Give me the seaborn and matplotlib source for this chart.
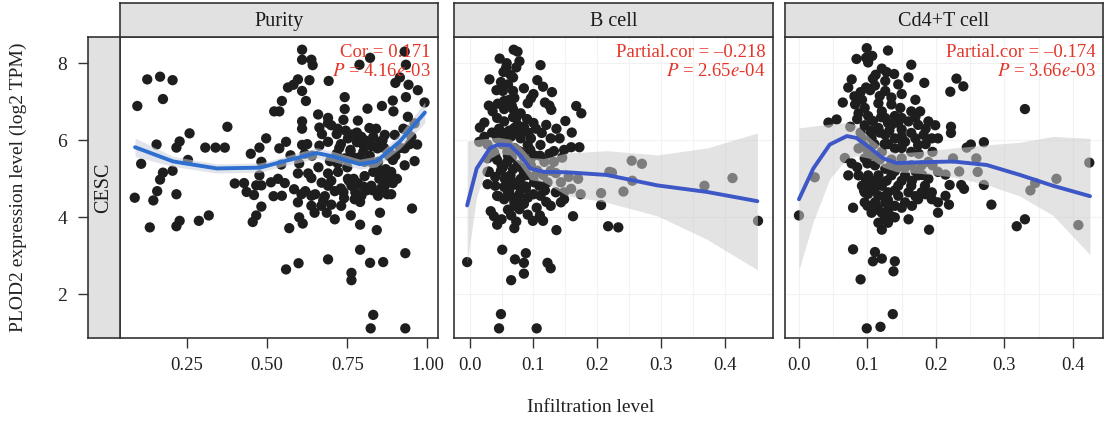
import matplotlib
matplotlib.use("Agg")
import matplotlib.pyplot as plt
import seaborn as sns
import numpy as np
import pandas as pd

# ---------------- data ----------------
panels = ["Purity", "B cell", "Cd4+T cell"]
row_label = "CESC"
y_ticks = [2, 4, 6, 8]
x_ticks_purity = [0.25, 0.50, 0.75, 1.00]
x_ticklabels_purity = ["0.25", "0.50", "0.75", "1.00"]
x_ticks_cell = [0.0, 0.1, 0.2, 0.3, 0.4]
x_ticklabels_cell = ["0.0", "0.1", "0.2", "0.3", "0.4"]
annot_line1 = ["Cor = 0.171", "Partial.cor = \u20130.218", "Partial.cor = \u20130.174"]
annot_line2 = [r"$P$ = 4.16$e$-03", r"$P$ = 2.65$e$-04", r"$P$ = 3.66$e$-03"]

purity_x = [0.126, 0.166, 0.205, 0.175, 0.095, 0.258, 0.227, 0.217, 0.155, 0.107, 0.175, 0.166,
            0.205, 0.253, 0.157, 0.145, 0.087, 0.217, 0.134, 0.217, 0.227, 0.287, 0.318, 0.307,
            0.339, 0.368, 0.376, 0.399, 0.428, 0.449, 0.436, 0.459, 0.476, 0.497, 0.522, 0.482,
            0.476, 0.466, 0.482, 0.512, 0.520, 0.482, 0.466, 0.455,
            0.609, 0.609, 0.638, 0.642, 0.596, 0.582, 0.565, 0.632, 0.692, 0.609, 0.621, 0.546,
            0.538, 0.929, 0.821, 0.788, 0.933, 0.914, 0.941, 0.900, 0.970, 0.742, 0.933, 0.892,
            0.991, 0.858, 0.813, 0.742, 0.894, 0.659, 0.690, 0.738, 0.783, 0.819, 0.609, 0.609,
            0.663, 0.700, 0.671, 0.717, 0.752, 0.794, 0.831, 0.867, 0.898, 0.844, 0.800, 0.939,
            0.960, 0.937, 0.950, 0.929, 0.968, 0.538, 0.559, 0.609, 0.663, 0.690, 0.717, 0.696,
            0.742, 0.773, 0.804, 0.846, 0.617, 0.573, 0.544, 0.534, 0.596, 0.628, 0.638, 0.555,
            0.584, 0.607, 0.619, 0.638, 0.596, 0.546, 0.690, 0.721, 0.752, 0.690, 0.711, 0.738,
            0.783, 0.763, 0.804, 0.825, 0.846, 0.867, 0.892, 0.794, 0.773, 0.675, 0.700, 0.731,
            0.669, 0.638, 0.648, 0.686, 0.711, 0.761, 0.790, 0.842, 0.852, 0.887, 0.862, 0.892,
            0.929, 0.960, 0.952, 0.600, 0.611, 0.569, 0.559, 0.598, 0.690, 0.763, 0.763, 0.790,
            0.821, 0.862, 0.931, 0.831, 0.823, 0.931, 0.887, 0.831,
            0.730, 0.760, 0.780, 0.810, 0.840, 0.860, 0.880, 0.750, 0.770, 0.800, 0.830, 0.870,
            0.700, 0.720, 0.740, 0.790, 0.810, 0.850,
            0.720, 0.745, 0.765, 0.780, 0.805, 0.825, 0.850, 0.865, 0.880, 0.725, 0.760, 0.785,
            0.820, 0.845, 0.870, 0.885, 0.730, 0.755, 0.775, 0.800, 0.830, 0.855, 0.875, 0.905,
            0.640, 0.660, 0.670, 0.650, 0.680, 0.600, 0.625, 0.690, 0.900, 0.915, 0.945, 0.925]
purity_y = [7.58, 7.65, 7.56, 7.07, 6.89, 6.18, 5.97, 5.81, 5.89, 5.39, 5.16, 4.98,
            5.21, 5.49, 4.68, 4.44, 4.51, 4.60, 3.74, 3.77, 3.91, 3.91, 4.05, 5.81,
            5.81, 5.81, 6.35, 4.88, 4.89, 5.65, 4.66, 4.58, 5.81, 6.05, 6.75, 5.44,
            5.09, 4.83, 4.83, 4.91, 4.55, 4.28, 4.05, 3.88,
            8.35, 8.09, 8.09, 7.95, 7.58, 7.44, 7.37, 7.56, 7.54, 7.28, 7.02, 7.02,
            6.75, 8.30, 8.14, 7.96, 7.96, 7.63, 7.44, 7.49, 7.30, 7.12, 7.12, 7.03,
            6.98, 6.89, 6.82, 6.81, 6.75, 6.67, 6.58, 6.53, 6.51, 6.32, 6.49, 6.30,
            6.33, 6.39, 6.16, 6.16, 6.05, 6.09, 6.09, 6.14, 6.14, 5.79, 5.88, 6.61,
            6.44, 6.26, 6.09, 5.79, 5.89, 5.79, 5.96, 5.88, 5.86, 5.96, 5.65, 5.46,
            5.53, 5.53, 5.44, 5.44, 5.65, 5.61, 5.37, 5.00, 5.14, 5.14, 5.02, 4.89,
            4.73, 4.60, 4.68, 4.56, 4.39, 4.56, 5.14, 5.18, 5.00, 4.82, 4.68, 4.65,
            4.89, 4.82, 5.07, 4.82, 4.56, 4.82, 4.89, 4.56, 4.47, 4.44, 4.33, 4.30,
            4.30, 4.30, 4.12, 4.12, 3.95, 4.05, 3.81, 3.67, 4.12, 4.60, 5.14, 5.49,
            5.35, 5.46, 4.23, 4.00, 3.84, 3.72, 2.65, 2.81, 2.91, 2.56, 2.37, 3.16,
            2.82, 2.84, 3.07, 1.47, 1.12, 1.12, 5.18, 5.18,
            5.90, 5.75, 6.20, 5.95, 6.30, 6.00, 5.60, 5.30, 5.00, 5.70, 5.40, 5.25,
            4.95, 5.40, 4.50, 4.40, 4.70, 5.00,
            6.30, 6.25, 6.15, 5.95, 6.00, 5.85, 5.95, 5.80, 5.70, 5.80, 5.70, 5.55,
            5.60, 5.25, 5.05, 4.95, 4.75, 4.95, 4.65, 4.80, 4.70, 4.75, 4.60, 5.00,
            5.60, 5.30, 4.90, 4.60, 4.55, 5.40, 5.90, 6.45, 5.60, 5.80, 5.90, 6.30]

bcell_x = [0.069, 0.075, 0.047, 0.078, 0.073, 0.057, 0.053, 0.031, 0.049, 0.068, 0.111, 0.106,
           0.115, 0.129, 0.096, 0.091, 0.118, 0.128, 0.167, 0.175, 0.052, 0.068, 0.070, 0.054,
           0.054, 0.068, 0.073, 0.054, 0.043, 0.023, 0.016, 0.046, 0.070, 0.085, 0.113, 0.127,
           0.141, 0.111, 0.096, 0.148, 0.159, 0.172, 0.023, 0.015, 0.028, 0.043, 0.059, 0.038,
           0.059, 0.075, 0.085, 0.101, 0.117, 0.132, 0.127, 0.106, 0.096, 0.075, 0.059, 0.043,
           0.028, 0.049, 0.064, 0.080, 0.101, 0.122, 0.143, 0.159, 0.174, 0.028, 0.040, 0.054,
           0.064, 0.054, 0.075, 0.091, 0.111, 0.127, 0.143, 0.148, 0.162, 0.078, 0.091, 0.099,
           0.115, 0.136, 0.038, 0.033, 0.043, 0.073, 0.070, 0.051, 0.071, 0.088, 0.085, 0.085,
           0.065, 0.122, 0.127, -0.004, 0.049, 0.046, 0.105, 0.219, 0.206, 0.206, 0.217, 0.030,
           0.028, 0.132, 0.148, 0.109, 0.080, 0.064, 0.043, 0.080, 0.091,
           0.223, 0.254, 0.270, 0.255, 0.241, 0.233, 0.368, 0.412, 0.452,
           0.060, 0.070, 0.080, 0.065, 0.075, 0.085, 0.055, 0.062, 0.072, 0.090, 0.058, 0.068,
           0.078, 0.088, 0.095, 0.050, 0.060, 0.070, 0.082, 0.066,
           0.036, 0.044, 0.062, 0.080, 0.090, 0.100, 0.060, 0.064, 0.058, 0.085,
           0.035, 0.050, 0.062, 0.078, 0.092, 0.104, 0.120, 0.136,
           0.040, 0.050, 0.066, 0.080, 0.095, 0.110, 0.125, 0.145,
           0.040, 0.052, 0.068, 0.085, 0.100, 0.115, 0.135, 0.155, 0.170,
           0.045, 0.060, 0.072, 0.088, 0.100, 0.118, 0.135,
           0.060, 0.070, 0.085, 0.105, 0.120, 0.050, 0.065, 0.110,
           0.150, 0.160, 0.125, 0.100, 0.042, 0.030]
bcell_y = [8.35, 8.30, 8.12, 8.05, 7.89, 7.88, 7.77, 7.58, 7.51, 7.63, 7.95, 7.56,
           7.39, 7.25, 7.09, 6.96, 6.98, 6.79, 6.89, 6.70, 7.28, 7.28, 7.10, 7.02,
           6.81, 6.81, 6.58, 6.49, 6.58, 6.46, 6.33, 6.30, 6.32, 6.35, 6.19, 6.05,
           6.05, 5.88, 6.05, 5.75, 5.82, 5.82, 6.09, 5.96, 5.89, 6.05, 5.96, 5.70,
           5.70, 5.74, 5.56, 5.61, 5.44, 5.44, 5.21, 5.21, 5.35, 5.35, 5.44, 5.49,
           5.18, 5.21, 5.09, 5.00, 4.91, 4.91, 4.91, 4.74, 4.60, 4.86, 4.82, 4.79,
           4.56, 4.47, 4.47, 4.51, 4.56, 4.30, 4.39, 4.47, 4.03, 4.21, 4.07, 3.91,
           3.91, 3.67, 4.03, 4.16, 3.81, 3.89, 3.72, 3.16, 2.91, 3.07, 2.82, 2.54,
           2.37, 2.82, 2.68, 2.84, 1.49, 1.12, 1.12, 5.18, 4.63, 4.32, 3.77, 5.19,
           5.53, 5.72, 4.65, 4.82, 4.74, 4.82, 4.56, 6.05, 5.88,
           5.16, 5.47, 5.39, 4.95, 4.67, 3.74, 4.82, 5.02, 3.91,
           5.60, 5.80, 5.30, 6.10, 6.40, 5.20, 5.00, 4.70, 4.90, 5.10, 6.20, 6.60,
           4.60, 4.80, 5.50, 5.35, 5.05, 4.40, 5.65, 6.90,
           6.75, 6.95, 7.05, 6.70, 6.55, 6.45, 7.45, 7.70, 8.00, 7.35,
           6.20, 6.15, 6.25, 6.20, 6.20, 6.30, 6.40, 6.30,
           5.60, 5.90, 5.55, 5.70, 5.75, 5.60, 5.65, 5.55,
           5.05, 5.30, 5.25, 5.15, 5.05, 5.10, 5.15, 5.05, 5.00,
           4.55, 4.65, 4.85, 4.75, 4.60, 4.70, 4.65,
           4.20, 4.30, 4.35, 4.25, 4.40, 3.95, 4.05, 4.05,
           6.50, 6.20, 6.90, 7.20, 7.30, 6.90]

cd4_x = [0.099, 0.130, 0.084, 0.098, 0.107, 0.101, 0.164, 0.121, 0.128, 0.077, 0.108, 0.139,
         0.126, 0.160, 0.183, 0.072, 0.098, 0.111, 0.126, 0.135, 0.081, 0.092, 0.064, 0.082,
         0.116, 0.135, 0.148, 0.096, 0.177, 0.087, 0.101, 0.121, 0.126, 0.140, 0.160, 0.189,
         0.199, 0.055, 0.075, 0.043, 0.096, 0.116, 0.135, 0.150, 0.164, 0.182, 0.194, 0.203,
         0.092, 0.106, 0.126, 0.140, 0.155, 0.174, 0.087, 0.101, 0.121, 0.140, 0.164, 0.067,
         0.077, 0.096, 0.111, 0.126, 0.150, 0.164, 0.179, 0.189, 0.203, 0.072, 0.087, 0.101,
         0.116, 0.135, 0.155, 0.174, 0.189, 0.092, 0.106, 0.121, 0.145, 0.164, 0.184, 0.101,
         0.116, 0.130, 0.145, 0.160, 0.179, 0.194, 0.111, 0.126, 0.140, 0.155, 0.174, 0.194,
         0.203, 0.106, 0.121, 0.135, 0.160, 0.203, 0.116, 0.130, 0.121, 0.079, 0.096, 0.023,
         0.000, 0.190, 0.079, 0.111, 0.121, 0.108, 0.140, 0.138, 0.090, 0.137, 0.099, 0.119,
         0.150, 0.164, 0.174,
         0.230, 0.240, 0.221, 0.222, 0.222, 0.330, 0.270, 0.251, 0.245, 0.225, 0.259, 0.234,
         0.261, 0.214, 0.220, 0.237, 0.241, 0.270, 0.214, 0.219, 0.281, 0.345, 0.338, 0.376,
         0.424, 0.330, 0.318, 0.408,
         0.110, 0.125, 0.140, 0.115, 0.130, 0.145, 0.105, 0.120, 0.135, 0.150, 0.095, 0.112,
         0.090, 0.104, 0.118, 0.150, 0.170, 0.112, 0.145,
         0.085, 0.108, 0.130, 0.145, 0.170, 0.185,
         0.090, 0.105, 0.118, 0.132, 0.150, 0.170, 0.185,
         0.095, 0.110, 0.130, 0.150, 0.175, 0.195,
         0.085, 0.100, 0.118, 0.135, 0.155, 0.170, 0.195,
         0.098, 0.112, 0.128, 0.150, 0.165, 0.180,
         0.096, 0.110, 0.125, 0.140, 0.170, 0.185,
         0.100, 0.115, 0.130, 0.150, 0.165, 0.140, 0.125]
cd4_y = [8.39, 8.33, 8.11, 8.14, 8.19, 8.02, 7.96, 7.86, 7.77, 7.58, 7.60, 7.72,
         7.54, 7.63, 7.49, 7.37, 7.37, 7.42, 7.28, 7.11, 7.14, 7.05, 6.98, 6.93,
         6.96, 6.93, 6.84, 6.84, 6.75, 6.70, 6.63, 6.75, 6.58, 6.63, 6.49, 6.49,
         6.39, 6.54, 6.35, 6.46, 6.39, 6.32, 6.40, 6.28, 6.19, 6.14, 6.05, 6.05,
         6.05, 6.05, 6.14, 6.05, 5.96, 5.88, 5.79, 5.70, 5.70, 5.79, 5.70, 5.54,
         5.40, 5.53, 5.35, 5.26, 5.53, 5.35, 5.35, 5.44, 5.18, 5.09, 5.09, 5.09,
         5.09, 5.09, 5.09, 5.09, 5.00, 4.82, 4.82, 4.82, 4.82, 4.82, 4.82, 4.61,
         4.56, 4.65, 4.56, 4.65, 4.65, 4.65, 4.39, 4.39, 4.30, 4.39, 4.47, 4.47,
         4.39, 4.12, 4.12, 4.03, 3.95, 4.12, 3.86, 3.86, 3.68, 4.25, 4.39, 5.04,
         4.05, 3.68, 3.17, 3.10, 2.93, 2.86, 2.86, 2.60, 2.39, 1.49, 1.12, 1.16,
         6.58, 6.75, 6.40,
         7.60, 7.40, 7.26, 6.35, 6.19, 6.81, 5.95, 5.89, 5.81, 5.53, 5.53, 5.19,
         5.18, 5.11, 4.84, 4.84, 4.74, 4.84, 4.56, 4.33, 4.33, 4.89, 4.70, 5.00,
         5.42, 3.95, 3.77, 3.80,
         5.60, 5.90, 5.20, 4.95, 4.45, 5.30, 6.20, 6.60, 5.50, 6.00, 4.70, 4.20,
         7.25, 7.30, 7.15, 7.20, 7.05, 7.70, 7.45,
         6.55, 6.50, 6.45, 6.45, 6.60, 6.30,
         6.20, 6.25, 6.20, 6.25, 6.10, 6.05, 5.90,
         5.85, 5.90, 5.90, 5.80, 5.65, 5.70,
         5.30, 5.40, 5.50, 5.40, 5.30, 5.20, 5.35,
         4.95, 4.95, 4.95, 4.95, 4.95, 5.10,
         4.65, 4.70, 4.55, 4.70, 4.55, 4.60,
         4.30, 4.25, 4.20, 4.25, 4.30, 4.00, 3.95]

# fitted smooth curves and confidence bands
purity_fit_x = [0.088, 0.207, 0.343, 0.478, 0.550, 0.654, 0.706, 0.789, 0.841, 0.914, 0.992]
purity_fit_y = [5.82, 5.45, 5.27, 5.29, 5.45, 5.67, 5.58, 5.38, 5.45, 5.97, 6.72]
purity_lo = [5.58, 5.32, 5.15, 5.17, 5.33, 5.53, 5.45, 5.25, 5.31, 5.78, 6.45]
purity_hi = [6.06, 5.58, 5.39, 5.41, 5.57, 5.81, 5.71, 5.51, 5.59, 6.16, 6.99]

bcell_fit_x = [-0.004, 0.011, 0.032, 0.045, 0.063, 0.079, 0.095, 0.116, 0.152, 0.215, 0.294, 0.372, 0.451]
bcell_fit_y = [4.31, 5.27, 5.80, 5.89, 5.87, 5.62, 5.27, 5.18, 5.17, 5.10, 4.83, 4.66, 4.42]
bcell_lo = [2.82, 4.55, 5.53, 5.65, 5.62, 5.35, 4.98, 4.92, 4.57, 4.39, 4.04, 3.43, 2.64]
bcell_hi = [5.97, 6.02, 6.06, 6.08, 6.03, 5.85, 5.55, 5.53, 5.67, 5.73, 5.62, 5.80, 6.19]

cd4_fit_x = [0.000, 0.021, 0.045, 0.070, 0.084, 0.104, 0.123, 0.143, 0.177, 0.225, 0.274, 0.323, 0.371, 0.425]
cd4_fit_y = [4.47, 5.27, 5.89, 6.11, 6.06, 5.80, 5.53, 5.41, 5.43, 5.45, 5.36, 5.10, 4.82, 4.55]
cd4_lo = [2.64, 3.90, 5.00, 5.53, 5.60, 5.53, 5.30, 5.18, 5.14, 5.05, 4.85, 4.55, 4.05, 3.03]
cd4_hi = [6.32, 6.37, 6.42, 6.46, 6.40, 6.06, 5.78, 5.67, 5.71, 5.80, 5.88, 5.95, 6.10, 6.05]

# ---------------- style ----------------
sns.set_theme(style="white")
plt.rcParams["font.family"] = ["Liberation Serif", "DejaVu Serif"]
plt.rcParams["mathtext.fontset"] = "stix"

W, H = 1104, 421
fig = plt.figure(figsize=(W / 100, H / 100), dpi=100)

def fx(px):
    return px / W

def fy(py):
    return 1 - py / H

panel_px = [(120, 438), (454, 773), (785, 1103)]
top_px, bot_px = 37, 338
strip_top = 3

xs = [purity_x, bcell_x, cd4_x]
ys = [purity_y, bcell_y, cd4_y]
fits = [(purity_fit_x, purity_fit_y, purity_lo, purity_hi),
        (bcell_fit_x, bcell_fit_y, bcell_lo, bcell_hi),
        (cd4_fit_x, cd4_fit_y, cd4_lo, cd4_hi)]
xlims = [(0.041, 1.033), (-0.0246, 0.4755), (-0.0204, 0.444)]
ylim = (0.87, 8.68)
line_colors = ["#2F6FD0", "#3D57C6", "#3D57C6"]
band_colors = ["#c9d0dc", "#cccccc", "#cccccc"]
red = "#E53528"
edge = "#333333"

for i, (l, r) in enumerate(panel_px):
    ax = fig.add_axes([fx(l), fy(bot_px), fx(r - l), fy(top_px) - fy(bot_px)])
    df = pd.DataFrame({"x": xs[i], "y": ys[i]})
    sns.scatterplot(data=df, x="x", y="y", ax=ax, color="#1e1e1e", s=55,
                    edgecolor="none", linewidth=0, zorder=2, legend=False)
    fxv, fyv, lo, hi = fits[i]
    ax.fill_between(fxv, lo, hi, color=band_colors[i], alpha=0.55, lw=0, zorder=3)
    fdf = pd.DataFrame({"x": fxv, "y": fyv})
    sns.lineplot(data=fdf, x="x", y="y", ax=ax, color=line_colors[i], lw=2.8,
                 zorder=4, sort=True, estimator=None)
    ax.set_xlim(*xlims[i])
    ax.set_ylim(*ylim)
    ax.set_xlabel("")
    ax.set_ylabel("")
    if i == 0:
        ax.set_xticks(x_ticks_purity)
        ax.set_xticklabels(x_ticklabels_purity)
    else:
        ax.set_xticks(x_ticks_cell)
        ax.set_xticklabels(x_ticklabels_cell)
        ax.set_xticks([0.05, 0.15, 0.25, 0.35], minor=True)
        ax.grid(True, which="both", color="#f2f2f2", lw=0.8)
        ax.set_axisbelow(True)
    ax.set_yticks(y_ticks)
    ax.tick_params(axis="y", left=False, labelleft=False)
    ax.tick_params(axis="x", which="major", bottom=True, direction="out", length=7,
                   width=1, color=edge, labelsize=13.5, pad=7, labelcolor="#222222")
    ax.tick_params(axis="x", which="minor", bottom=False)
    for s in ax.spines.values():
        s.set_color(edge)
        s.set_linewidth(1.2)
    ax.text(0.977, 0.947, annot_line1[i], transform=ax.transAxes, ha="right",
            va="center", color=red, fontsize=13.5, zorder=6)
    ax.text(0.977, 0.884, annot_line2[i], transform=ax.transAxes, ha="right",
            va="center", color=red, fontsize=13.5, zorder=6)
    # top strip
    sax = fig.add_axes([fx(l), fy(top_px), fx(r - l), fy(strip_top) - fy(top_px)])
    sax.set_facecolor("#e1e1e1")
    sax.set_xticks([])
    sax.set_yticks([])
    for s in sax.spines.values():
        s.set_color(edge)
        s.set_linewidth(1.2)
    sax.text(0.5, 0.47, panels[i], ha="center", va="center", fontsize=14.5,
             color="#1a1a1a", transform=sax.transAxes)

# left row strip with y axis
lax = fig.add_axes([fx(88), fy(bot_px), fx(120 - 88), fy(top_px) - fy(bot_px)])
lax.set_facecolor("#e1e1e1")
lax.set_ylim(*ylim)
lax.set_xticks([])
lax.set_yticks(y_ticks)
lax.set_yticklabels([str(v) for v in y_ticks])
lax.tick_params(axis="y", left=True, direction="out", length=7, width=1, color=edge,
                labelsize=14, pad=8, labelcolor="#222222")
for s in lax.spines.values():
    s.set_color(edge)
    s.set_linewidth(1.2)
lax.text(0.5, 0.5, row_label, rotation=90, ha="center", va="center", fontsize=14.5,
         color="#1a1a1a", transform=lax.transAxes)

fig.text(fx(18), fy(187), "PLOD2 expression level (log2 TPM)", rotation=90,
         ha="center", va="center", fontsize=14, color="#222222")
fig.text(fx(591), fy(408), "Infiltration level", ha="center", va="center",
         fontsize=14, color="#222222")

fig.savefig("out.png", dpi=100, facecolor="white")
